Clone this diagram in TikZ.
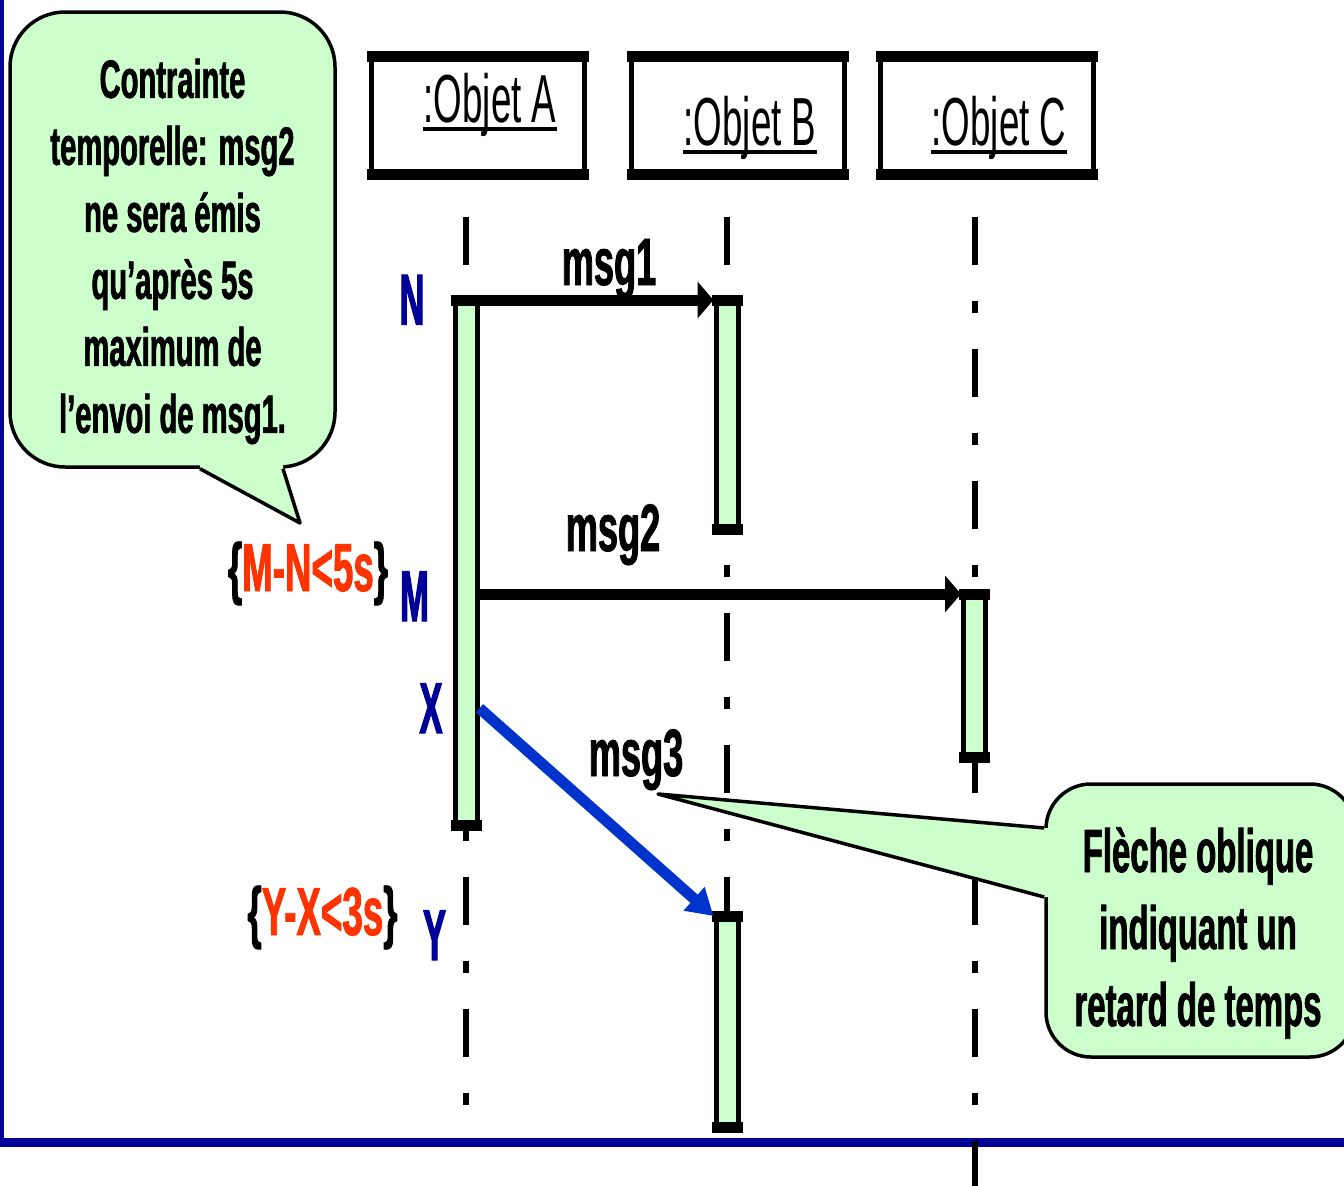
\documentclass[tikz,border=0pt]{standalone}
\usepackage{fontspec}
\usepackage{tikz}
\usetikzlibrary{arrows.meta}
\newfontfamily\narrowsf{Liberation Sans}[FakeStretch=0.54,BoldFeatures={FakeBold=1.2}]
\newfontfamily\narrowersf{Liberation Sans}[FakeStretch=0.48,BoldFeatures={FakeBold=1.5}]
\definecolor{notegreen}{RGB}{204,255,204}
\definecolor{markblue}{RGB}{0,0,153}
\definecolor{msgblue}{RGB}{0,51,204}
\definecolor{limitred}{RGB}{255,51,0}

\begin{document}
\begin{tikzpicture}[x=1pt,y=-1pt,
	objbox/.style={draw,line width=5pt,minimum width=213pt,minimum height=113pt,inner sep=0pt},
	objname/.style={font=\narrowsf\fontsize{68}{68}\selectfont,inner sep=0pt,anchor=base},
	lifeline/.style={line width=6pt,dash pattern=on 48pt off 36pt on 12pt off 36pt},
	actbar/.style={draw,fill=notegreen,line width=5pt,minimum width=22pt,inner sep=0pt},
	msgline/.style={line width=11pt,-{Triangle[length=16pt,width=36pt]}},
	msglabel/.style={font=\narrowsf\bfseries\fontsize{67}{67}\selectfont,inner sep=0pt,anchor=base},
	instant/.style={text=markblue,font=\narrowersf\bfseries\fontsize{72}{72}\selectfont,inner sep=0pt,anchor=base},
	limit/.style={font=\narrowsf\bfseries\fontsize{68}{68}\selectfont,inner sep=0pt,anchor=base},
	note/.style={draw,fill=notegreen,line width=3.5pt,inner sep=0pt},
	notetext/.style={align=center,inner sep=0pt}
]
	\useasboundingbox (0,0) rectangle (1344,1186);
	\draw[markblue,line width=3.5pt] (1.75,0) -- (1.75,1142);
	\draw[markblue,line width=9pt] (0,1142) -- (1344,1142);

	\node[objbox] (objA) at (478,115) {};
	\node[objbox] (objB) at (738,115) {};
	\node[objbox] (objC) at (986.5,115) {};
	\node[objname] (nameA) at (490,122) {:Objet A};
	\node[objname] (nameB) at (750,145) {:Objet B};
	\node[objname] (nameC) at (999,145) {:Objet C};
	\foreach \n in {nameA,nameB,nameC}
		\draw[line width=3.5pt] ([yshift=-7pt]\n.base west) -- ([yshift=-7pt]\n.base east);

	\draw[lifeline] (466,217) -- (466,1105);
	\draw[lifeline] (727,217) -- (727,1125);
	\draw[lifeline] (974.5,217) -- (974.5,1190);

	\node[actbar,minimum height=520pt] (barA) at (466,562.5) {};
	\node[actbar,minimum height=224pt] (barB) at (727,414.5) {};
	\node[actbar,minimum height=158pt] (barC) at (974.5,675.5) {};
	\node[actbar,minimum height=206pt] (barD) at (727,1021.5) {};
	\foreach \b in {objA,objB,objC,barA,barB,barC,barD}
		\draw[line width=11pt] ([xshift=-2pt]\b.north west) -- ([xshift=2pt]\b.north east)
			([xshift=-2pt]\b.south west) -- ([xshift=2pt]\b.south east);

	\node[instant] (instN) at (412,324.5) {N};
	\node[instant] (instM) at (414.5,621) {M};
	\node[instant] (instX) at (431,733) {X};
	\node[instant] (instY) at (434.5,960) {Y};
	\node[limit] (limMN) at (308,591) {\{\textcolor{limitred}{M-N<5s}\}};
	\node[limit] (limYX) at (322.5,935) {\{\textcolor{limitred}{Y-X<3s}\}};

	\draw[msgline] (barA.north west) -- (barB.north west);
	\draw[msgline] (barA.east |- barC.north west) -- (barC.north west);
	\draw[msgline,msgblue,-{Triangle[length=26pt,width=30pt]}] (barA.east |- instX) -- (barD.north west);
	\node[msglabel] (msgA) at (609,285) {msg1};
	\node[msglabel] (msgB) at (613,551) {msg2};
	\node[msglabel] (msgC) at (636,776) {msg3};

	\node[note,rounded corners=55pt,minimum width=325pt,minimum height=455pt] (noteL) at (172.5,239.5) {};
	\coordinate (tipL) at (300,523);
	\fill[notegreen] ([xshift=27.5pt,yshift=5pt]noteL.south) -- ([xshift=27.5pt]noteL.south) -- (tipL)
		-- ([xshift=110.5pt]noteL.south) -- ([xshift=110.5pt,yshift=5pt]noteL.south) -- cycle;
	\draw[line width=3.5pt,line join=round] ([xshift=27.5pt]noteL.south) -- (tipL) -- ([xshift=110.5pt]noteL.south);
	\node[notetext,font=\narrowsf\bfseries\fontsize{54}{67}\selectfont] (textL) at (172.5,251.5)
		{Contrainte\\temporelle: msg2\\ne sera émis\\qu’après 5s\\maximum de\\l’envoi de msg1.};

	\node[note,rounded corners=45pt,minimum width=309pt,minimum height=273pt] (noteR) at (1200.5,920.5) {};
	\coordinate (tipR) at (658,794);
	\fill[notegreen] ([xshift=5pt,yshift=92.5pt]noteR.west) -- ([yshift=92.5pt]noteR.west) -- (tipR)
		-- ([yshift=23.5pt]noteR.west) -- ([xshift=5pt,yshift=23.5pt]noteR.west) -- cycle;
	\draw[line width=3.5pt,line join=round] ([yshift=92.5pt]noteR.west) -- (tipR) -- ([yshift=23.5pt]noteR.west);
	\node[notetext,font=\narrowsf\bfseries\fontsize{61}{77}\selectfont] (textR) at (1198,933)
		{Flèche oblique\\indiquant un\\retard de temps};
\end{tikzpicture}
\end{document}
